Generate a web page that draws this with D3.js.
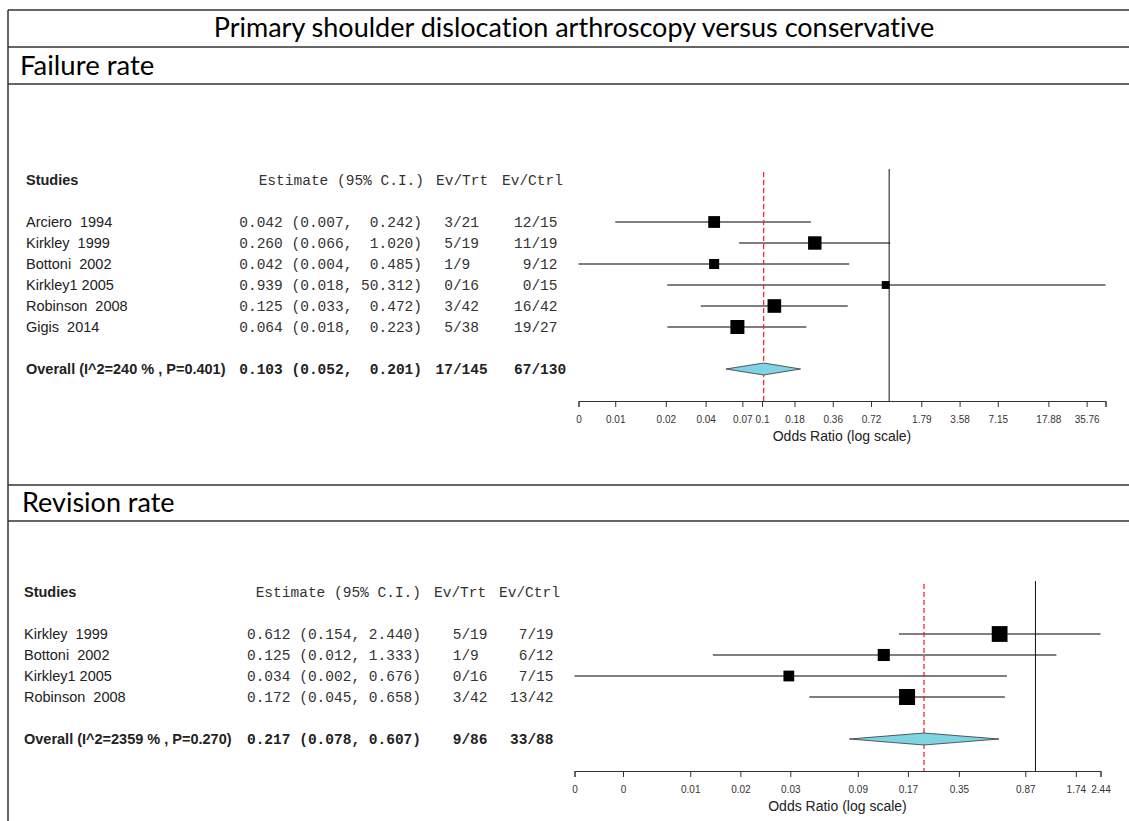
<!DOCTYPE html>
<html>
<head>
<meta charset="utf-8">
<script src="https://cdn.jsdelivr.net/npm/d3@7"></script>
<style>
body { margin: 0; background: #fff; }
text { white-space: pre; font-variant-ligatures: none; }
</style>
</head>
<body>
<svg id="chart" width="1129" height="821"></svg>
<script>
// ---- failure rate ----
var failStudies = ["Arciero  1994", "Kirkley  1999", "Bottoni  2002", "Kirkley1 2005", "Robinson  2008", "Gigis  2014"];
var failEst  = [0.042, 0.260, 0.042, 0.939, 0.125, 0.064];
var failLow  = [0.007, 0.066, 0.0036, 0.018, 0.033, 0.018];
var failHigh = [0.242, 1.020, 0.485, 50.312, 0.472, 0.223];
var failTrt  = [" 3/21", " 5/19", " 1/9", " 0/16", " 3/42", " 5/38"];
var failCtrl = ["12/15", "11/19", " 9/12", " 0/15", "16/42", "19/27"];
var failOverall = [0.103, 0.052, 0.201];
var failOverallText = ["Overall (I^2=240 % , P=0.401)", "17/145", "67/130"];
var failTicks = [0.0036, 0.007, 0.0175, 0.036, 0.07, 0.1, 0.18, 0.36, 0.72, 1.79, 3.58, 7.15, 17.88, 35.76, 50.312];
var failTickLabels = ["0", "0.01", "0.02", "0.04", "0.07", "0.1", "0.18", "0.36", "0.72", "1.79", "3.58", "7.15", "17.88", "35.76", ""];

// ---- revision rate ----
var revStudies = ["Kirkley  1999", "Bottoni  2002", "Kirkley1 2005", "Robinson  2008"];
var revEst  = [0.612, 0.125, 0.034, 0.172];
var revLow  = [0.154, 0.012, 0.0018, 0.045];
var revHigh = [2.440, 1.333, 0.676, 0.658];
var revTrt  = [" 5/19", " 1/9", " 0/16", " 3/42"];
var revCtrl = [" 7/19", " 6/12", " 7/15", "13/42"];
var revOverall = [0.217, 0.078, 0.607];
var revOverallText = ["Overall (I^2=2359 % , P=0.270)", " 9/86", "33/88"];
var revTicks = [0.0018, 0.0035, 0.0088, 0.0175, 0.0347, 0.0875, 0.174, 0.35, 0.87, 1.74, 2.44];
var revTickLabels = ["0", "0", "0.01", "0.02", "0.03", "0.09", "0.17", "0.35", "0.87", "1.74", "2.44"];

var svg = d3.select("#chart");
var W = 1129;
var SANS = "'Liberation Sans', Arial, sans-serif";
var MONO = "'Liberation Mono', 'Courier New', monospace";
var HEAD = "Lato, 'Open Sans', sans-serif";

// frame of the table
var frame = svg.append("g").attr("stroke", "#333").attr("stroke-width", 1.5);
[10, 47, 84, 485, 521].forEach(function(y) {
    frame.append("line").attr("x1", 8).attr("x2", W).attr("y1", y).attr("y2", y);
});
frame.append("line").attr("x1", 8).attr("x2", 8).attr("y1", 10).attr("y2", 821);

svg.append("text").attr("x", 574).attr("y", 28).attr("dy", "0.35em")
    .attr("text-anchor", "middle").attr("font-family", HEAD).attr("font-size", 27)
    .text("Primary shoulder dislocation arthroscopy versus conservative");
svg.append("text").attr("x", 20).attr("y", 65).attr("dy", "0.35em")
    .attr("font-family", HEAD).attr("font-size", 27.5).text("Failure rate");
svg.append("text").attr("x", 22).attr("y", 503).attr("dy", "0.35em")
    .attr("font-family", HEAD).attr("font-size", 27).text("Revision rate");

function fmtCI(e, l, h, w) {
    return e.toFixed(3) + " (" + l.toFixed(3) + ", " + h.toFixed(3).padStart(w) + ")";
}

function drawPanel(p) {
    var n = p.studies.length;
    var g = svg.append("g");

    var row = d3.scaleLinear().domain([0, 1]).range([p.y0, p.y0 + 21]);
    var x = d3.scaleLog()
        .domain(d3.extent(p.low.concat(p.high)))
        .range(p.xRange);

    // box size from the precision of each study (1/se from the CI)
    var prec = p.est.map(function(d, i) {
        return 3.92 / (Math.log(p.high[i]) - Math.log(p.low[i]));
    });
    var box = d3.scaleSqrt().domain([0, d3.max(prec)]).range([0, p.boxMax]);

    var yHead = row(-2), yOver = row(n + 1), yAxis = yOver + 32;

    // header
    g.append("text").attr("x", p.nameX).attr("y", yHead).attr("dy", "0.35em")
        .attr("font-family", SANS).attr("font-size", 14.5).attr("font-weight", "bold")
        .attr("fill", "#222").text("Studies");
    var hdr = g.append("g").attr("font-family", MONO).attr("font-size", 14.5).attr("fill", "#333");
    hdr.append("text").attr("x", p.hdrEstRight).attr("y", yHead).attr("dy", "0.35em")
        .attr("text-anchor", "end").text("Estimate (95% C.I.)");
    hdr.append("text").attr("x", p.hdrTrtX).attr("y", yHead).attr("dy", "0.35em").text("Ev/Trt");
    hdr.append("text").attr("x", p.hdrCtrlX).attr("y", yHead).attr("dy", "0.35em").text("Ev/Ctrl");

    var w = d3.max(p.high.concat([p.overall[2]]), function(d) { return d.toFixed(3).length; });

    // study rows
    var rows = g.selectAll(".study").data(p.studies).enter().append("g").attr("class", "study");
    rows.append("text").attr("x", p.nameX).attr("y", function(d, i) { return row(i); })
        .attr("dy", "0.35em").attr("font-family", SANS).attr("font-size", 14.5).attr("fill", "#222")
        .text(function(d) { return d; });
    rows.append("text").attr("x", p.estRight).attr("y", function(d, i) { return row(i); })
        .attr("dy", "0.35em").attr("text-anchor", "end").attr("font-family", MONO)
        .attr("font-size", 14.5).attr("fill", "#333")
        .text(function(d, i) { return fmtCI(p.est[i], p.low[i], p.high[i], w); });
    rows.append("text").attr("x", p.trtX).attr("y", function(d, i) { return row(i); })
        .attr("dy", "0.35em").attr("font-family", MONO).attr("font-size", 14.5).attr("fill", "#333")
        .text(function(d, i) { return p.trt[i]; });
    rows.append("text").attr("x", p.ctrlX).attr("y", function(d, i) { return row(i); })
        .attr("dy", "0.35em").attr("font-family", MONO).attr("font-size", 14.5).attr("fill", "#333")
        .text(function(d, i) { return p.ctrl[i]; });

    // overall row
    var ov = g.append("g").attr("font-weight", "bold").attr("font-size", 14.5).attr("fill", "#222");
    ov.append("text").attr("x", p.nameX).attr("y", yOver).attr("dy", "0.35em")
        .attr("font-family", SANS).text(p.overallText[0]);
    ov.append("text").attr("x", p.estRight).attr("y", yOver).attr("dy", "0.35em")
        .attr("text-anchor", "end").attr("font-family", MONO)
        .text(fmtCI(p.overall[0], p.overall[1], p.overall[2], w));
    ov.append("text").attr("x", p.trtX).attr("y", yOver).attr("dy", "0.35em")
        .attr("font-family", MONO).text(p.overallText[1]);
    ov.append("text").attr("x", p.ctrlX).attr("y", yOver).attr("dy", "0.35em")
        .attr("font-family", MONO).text(p.overallText[2]);

    // confidence intervals
    rows.append("line")
        .attr("x1", function(d, i) { return x(p.low[i]); })
        .attr("x2", function(d, i) { return x(p.high[i]); })
        .attr("y1", function(d, i) { return row(i); })
        .attr("y2", function(d, i) { return row(i); })
        .attr("stroke", "#555").attr("stroke-width", 1.3);

    // reference lines
    g.append("line").attr("x1", x(1)).attr("x2", x(1)).attr("y1", yHead - 11).attr("y2", yAxis)
        .attr("stroke", "#111").attr("stroke-width", 1);
    g.append("line").attr("x1", x(p.overall[0])).attr("x2", x(p.overall[0]))
        .attr("y1", yHead - 8).attr("y2", yAxis)
        .attr("stroke", "#ff1a1a").attr("stroke-width", 1.2).attr("stroke-dasharray", "5,3");

    // study boxes
    rows.append("rect")
        .attr("x", function(d, i) { return x(p.est[i]) - box(prec[i]) / 2; })
        .attr("y", function(d, i) { return row(i) - box(prec[i]) / 2; })
        .attr("width", function(d, i) { return box(prec[i]); })
        .attr("height", function(d, i) { return box(prec[i]); })
        .attr("fill", "#000");

    // summary diamond
    var o = p.overall;
    g.append("polygon")
        .attr("points", [[x(o[1]), yOver], [x(o[0]), yOver - 6], [x(o[2]), yOver], [x(o[0]), yOver + 6]].join(" "))
        .attr("fill", "#7fd4e4").attr("stroke", "#333").attr("stroke-width", 0.8);

    // axis
    var axis = d3.axisBottom(x)
        .tickValues(p.ticks)
        .tickFormat(function(d, i) { return p.tickLabels[i]; })
        .tickSizeInner(6).tickSizeOuter(6);
    var ax = g.append("g").attr("transform", "translate(0," + yAxis + ")").call(axis);
    ax.select(".domain").attr("stroke", "#333");
    ax.selectAll(".tick line").attr("stroke", "#333");
    ax.selectAll(".tick text").attr("font-family", SANS).attr("font-size", 10)
        .attr("fill", "#333").attr("dy", "1.3em");
    g.append("text").attr("x", d3.mean(p.xRange)).attr("y", yAxis + 35).attr("dy", "0.35em")
        .attr("text-anchor", "middle").attr("font-family", SANS).attr("font-size", 14)
        .attr("fill", "#222").text("Odds Ratio (log scale)");
}

drawPanel({
    studies: failStudies, est: failEst, low: failLow, high: failHigh,
    trt: failTrt, ctrl: failCtrl, overall: failOverall, overallText: failOverallText,
    ticks: failTicks, tickLabels: failTickLabels,
    y0: 222, xRange: [578.5, 1105.5], boxMax: 14,
    nameX: 26, estRight: 422, trtX: 435.5, ctrlX: 514,
    hdrEstRight: 424, hdrTrtX: 436, hdrCtrlX: 502
});

drawPanel({
    studies: revStudies, est: revEst, low: revLow, high: revHigh,
    trt: revTrt, ctrl: revCtrl, overall: revOverall, overallText: revOverallText,
    ticks: revTicks, tickLabels: revTickLabels,
    y0: 634, xRange: [574.5, 1100.5], boxMax: 16,
    nameX: 24, estRight: 421, trtX: 444, ctrlX: 510,
    hdrEstRight: 421, hdrTrtX: 434, hdrCtrlX: 499
});
</script>
</body>
</html>
